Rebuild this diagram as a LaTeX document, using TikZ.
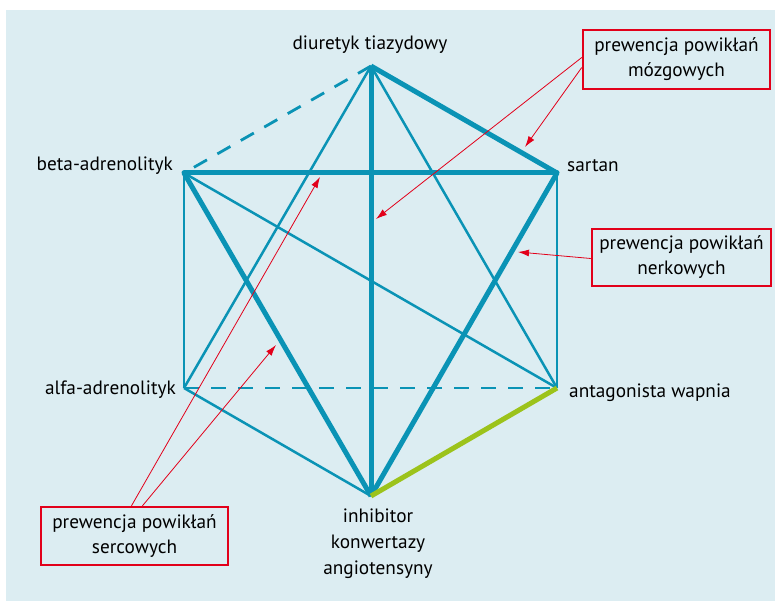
\documentclass[tikz,border=0pt]{standalone}
\usepackage{fontspec}
\setmainfont{PT Sans}
\usetikzlibrary{arrows.meta}
\definecolor{bgblue}{HTML}{DCEDF2}
\definecolor{teal}{HTML}{0A93B5}
\definecolor{lime}{HTML}{9CC31B}
\definecolor{redc}{HTML}{E2001A}
\tikzset{
  thinline/.style={teal, line width=2.5pt},
  thickline/.style={teal, line width=5pt},
  dashline/.style={teal, line width=2.8pt, dash pattern=on 15pt off 12pt},
  greenline/.style={lime, line width=5pt},
  lbl/.style={font=\fontsize{19.3}{26}\selectfont, inner sep=0pt, text=black},
  redbox/.style={draw=redc, line width=2.5pt, fill=bgblue, font=\fontsize{19.3}{25}\selectfont, align=center, inner sep=0pt},
  redarrow/.style={redc, line width=0.8pt, -{Latex[length=11pt,width=7pt]}}
}
\begin{document}
\begin{tikzpicture}[x=1pt,y=-1pt]
\useasboundingbox (0,0) rectangle (775,601);
\fill[white] (0,0) rectangle (775,601);
\fill[bgblue] (6,10) rectangle (775,601);
% vertices
\coordinate (D) at (371,66);
\coordinate (S) at (557,173);
\coordinate (A) at (557,388);
\coordinate (I) at (371,496);
\coordinate (Al) at (184,388);
\coordinate (B) at (184,173);
% thin edges
\draw[thinline] (D) -- (Al);
\draw[thinline] (D) -- (A);
\draw[thinline] (B) -- (Al);
\draw[thinline] (B) -- (A);
\draw[thinline] (S) -- (A);
\draw[thinline] (Al) -- (I);
% dashed
\draw[dashline] (D) -- (B);
\draw[dashline] (Al) -- (A);
% thick
\draw[thickline, line cap=round] (B) -- (S);
\draw[thickline] (D) -- (S);
\draw[thickline] (D) -- (I);
\draw[thickline] (B) -- (I);
\draw[thickline] (S) -- (I);
\draw[greenline] (A) -- (I);
% labels
\node[lbl] (lD) at (370,45) {diuretyk tiazydowy};
\node[lbl, anchor=east] (lB) at (173,166) {beta-adrenolityk};
\node[lbl, anchor=west] (lS) at (567,166) {sartan};
\node[lbl, anchor=east] (lAl) at (176,390) {alfa-adrenolityk};
\node[lbl, anchor=west] (lA) at (569,393) {antagonista wapnia};
\node[lbl, align=center] (lI) at (378,544) {inhibitor\\konwertazy\\angiotensyny};
% boxes
\node[redbox, minimum width=187pt, minimum height=59pt] (brain) at (676.5,59.5) {prewencja powikłań\\mózgowych};
\node[redbox, minimum width=179pt, minimum height=57pt] (kidney) at (681.5,257.5) {prewencja powikłań\\nerkowych};
\node[redbox, minimum width=187pt, minimum height=58pt] (heart) at (134.5,536) {prewencja powikłań\\sercowych};
% arrow tips
\coordinate (tB1) at (525,147);
\coordinate (tB2) at (376,219);
\coordinate (tK) at (518,252);
\coordinate (tH1) at (320,177);
\coordinate (tH2) at (276,345);
\draw[redarrow] ([yshift=-8pt]brain.west) -- (tB1);
\draw[redarrow] ([yshift=2pt]brain.west) -- (tB2);
\draw[redarrow] ([yshift=-1pt]kidney.west) -- (tK);
\draw[redarrow] ([xshift=-3pt]heart.north) -- (tH1);
\draw[redarrow] ([xshift=8pt]heart.north) -- (tH2);
\end{tikzpicture}
\end{document}
